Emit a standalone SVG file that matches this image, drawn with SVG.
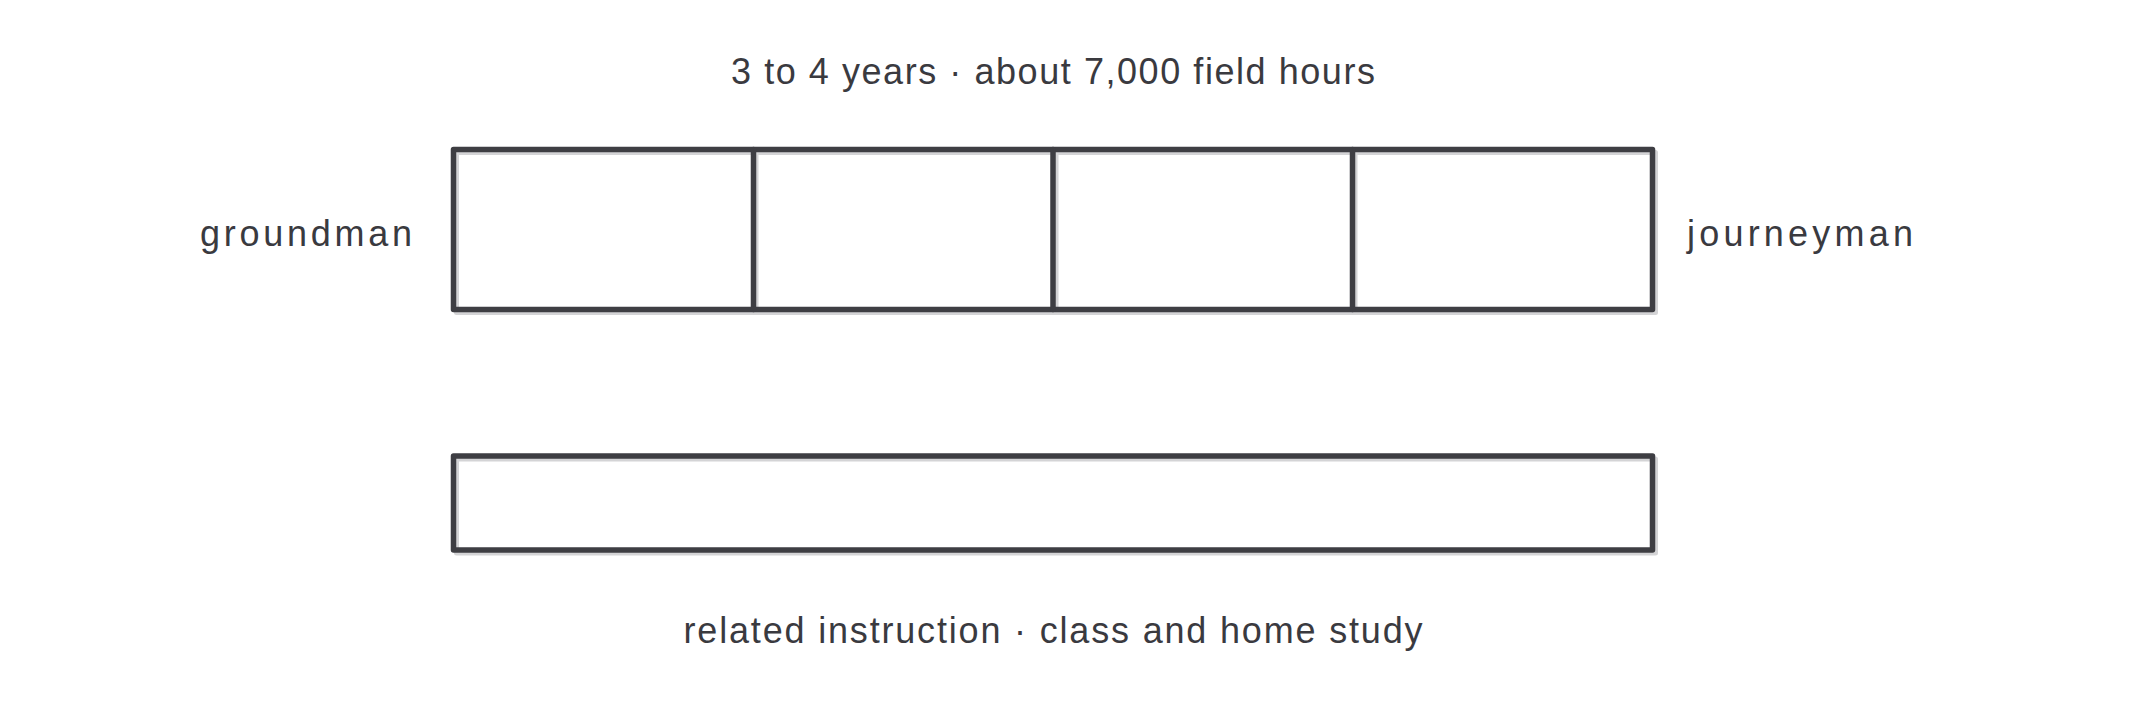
<svg xmlns="http://www.w3.org/2000/svg" width="2133" height="707" viewBox="0 0 2133 707">
<style>
.box{fill:none;stroke:#3e3e43;stroke-width:5.5;stroke-linejoin:round;stroke-linecap:round}
.shadow{fill:none;stroke:#d4d4d6;stroke-width:5;stroke-linejoin:round}
.lbl{font-family:"Liberation Sans",Arial,sans-serif;font-size:36px;fill:#3a3a3f}
</style>
<rect width="2133" height="707" fill="#ffffff"/>
<g id="title">
<text class="lbl" x="1053" y="84" text-anchor="middle" textLength="644" lengthAdjust="spacing">3 to 4 years · about 7,000 field hours</text>
</g>
<g id="field-bar">
<rect class="shadow" x="456.5" y="152.5" width="1199" height="160"/>
<path class="shadow" d="M756 152.5V312.5M1056 152.5V312.5M1355 152.5V312.5"/>
<rect class="box" x="453.5" y="149.5" width="1199" height="160"/>
<path class="box" d="M753.5 149.5V309.5M1053 149.5V309.5M1352.5 149.5V309.5"/>
</g>
<g id="groundman">
<text class="lbl" x="412" y="246" text-anchor="end" textLength="212" lengthAdjust="spacing">groundman</text>
</g>
<g id="journeyman">
<text class="lbl" x="1687" y="246" textLength="226" lengthAdjust="spacing">journeyman</text>
</g>
<g id="instruction-bar">
<rect class="shadow" x="456.5" y="459" width="1199" height="94"/>
<rect class="box" x="453.5" y="456" width="1199" height="94"/>
</g>
<g id="instruction-label">
<text class="lbl" x="1053" y="643" text-anchor="middle" textLength="739" lengthAdjust="spacing">related instruction · class and home study</text>
</g>
<g id="connectors"></g>
</svg>
